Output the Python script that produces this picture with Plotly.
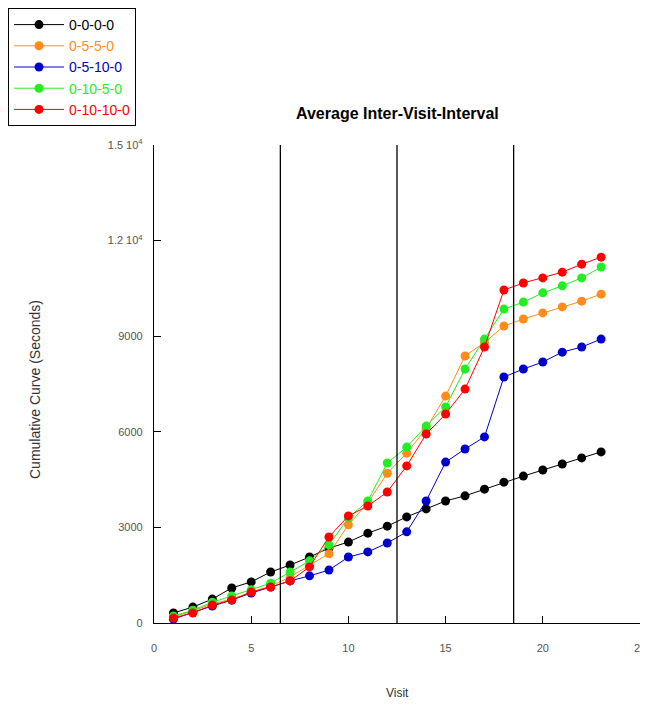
import plotly.graph_objects as go

visits = list(range(1, 24))

s_0000 = [314, 500, 750, 1100, 1290, 1600, 1820, 2070, 2350, 2540, 2820, 3040,
          3330, 3580, 3830, 3990, 4200, 4420, 4610, 4800, 4990, 5180, 5370]
s_0550 = [190, 380, 600, 750, 970, 1160, 1440, 1820, 2170, 3080, 3770, 4700,
          5330, 6100, 7120, 8380, 8800, 9320, 9540, 9730, 9920, 10100, 10320]
s_05100 = [120, 340, 530, 720, 940, 1130, 1320, 1480, 1660, 2070, 2230, 2510,
           2860, 3830, 5050, 5460, 5840, 7720, 7970, 8190, 8500, 8660, 8910]
s_01050 = [220, 400, 650, 850, 1040, 1250, 1600, 1950, 2450, 3300, 3830, 5020,
           5520, 6180, 6780, 7970, 8910, 9850, 10070, 10360, 10580, 10830, 11170]
s_010100 = [157, 314, 565, 720, 970, 1130, 1320, 1760, 2700, 3360, 3670, 4110,
            4930, 5930, 6560, 7340, 8660, 10450, 10670, 10830, 11010, 11260, 11480]

series_names = ["0-0-0-0", "0-5-5-0", "0-5-10-0", "0-10-5-0", "0-10-10-0"]
series_values = [s_0000, s_0550, s_05100, s_01050, s_010100]
series_colors = ["#000000", "#FF8C1A", "#0000CC", "#22EE22", "#FF0000"]

phase_lines = [6.5, 12.5, 18.5]

x_ticks = [0, 5, 10, 15, 20, 25]
y_ticks = [0, 3000, 6000, 9000, 12000, 15000]
y_ticktext = ["0", "3000", "6000", "9000", "1.2 10<sup>4</sup>", "1.5 10<sup>4</sup>"]

FONT = "Arial, Liberation Sans, sans-serif"

fig = go.Figure()

for name, vals, col in zip(series_names, series_values, series_colors):
    fig.add_trace(go.Scatter(
        x=visits, y=vals, mode="lines+markers",
        name=f"<span style='color:{col}'>{name}</span>",
        line=dict(color=col, width=1),
        marker=dict(color=col, size=9, symbol="circle"),
        cliponaxis=False,
    ))

for xv in phase_lines:
    fig.add_shape(type="line", xref="x", yref="y", x0=xv, x1=xv, y0=0, y1=15000,
                  line=dict(color="black", width=1.3))

# page body has an 8px margin, so the figure is sized to fit the 648x706 window
fig.update_layout(
    width=640, height=698,
    margin=dict(l=146, r=8, t=137, b=83, autoexpand=False),
    paper_bgcolor="white", plot_bgcolor="white",
    font=dict(family=FONT, color="#000"),
    showlegend=True,
    legend=dict(
        xref="container", yref="container", x=0, y=1,
        xanchor="left", yanchor="top",
        bordercolor="black", borderwidth=1,
        font=dict(size=14, family=FONT),
        bgcolor="white",
        itemwidth=50,
    ),
    annotations=[
        dict(text="<b>Average Inter-Visit-Interval</b>", xref="paper", yref="paper",
             x=0.5, y=1, yshift=32, xanchor="center", yanchor="middle", showarrow=False,
             font=dict(size=16, family=FONT)),
        dict(text="Visit", xref="paper", yref="paper", x=0.5, y=0, yshift=-70,
             xanchor="center", yanchor="middle",
             showarrow=False, font=dict(size=12, family=FONT, color="#333")),
        dict(text="Cumulative Curve (Seconds)", xref="paper", yref="paper", x=0, xshift=-119,
             y=0.5, yshift=-6, xanchor="center", yanchor="middle", textangle=-90,
             showarrow=False, font=dict(size=14, family=FONT, color="#333")),
    ],
)

fig.update_xaxes(
    range=[0, 25], tickvals=x_ticks, ticks="inside", ticklen=7, tickwidth=1.3,
    tickcolor="black", showline=True, linecolor="black", linewidth=1.3,
    showgrid=False, zeroline=False, ticklabelstandoff=15, automargin=False,
    tickfont=dict(size=11, color="#555", family=FONT),
)
fig.update_yaxes(
    range=[0, 15000], tickvals=y_ticks, ticktext=y_ticktext, ticks="inside", ticklen=7,
    tickwidth=1.3, tickcolor="black", showline=True, linecolor="black", linewidth=1.3,
    showgrid=False, zeroline=False, ticklabelstandoff=8, automargin=False,
    tickfont=dict(size=11, color="#555", family=FONT),
)

fig.write_html("out.html")
